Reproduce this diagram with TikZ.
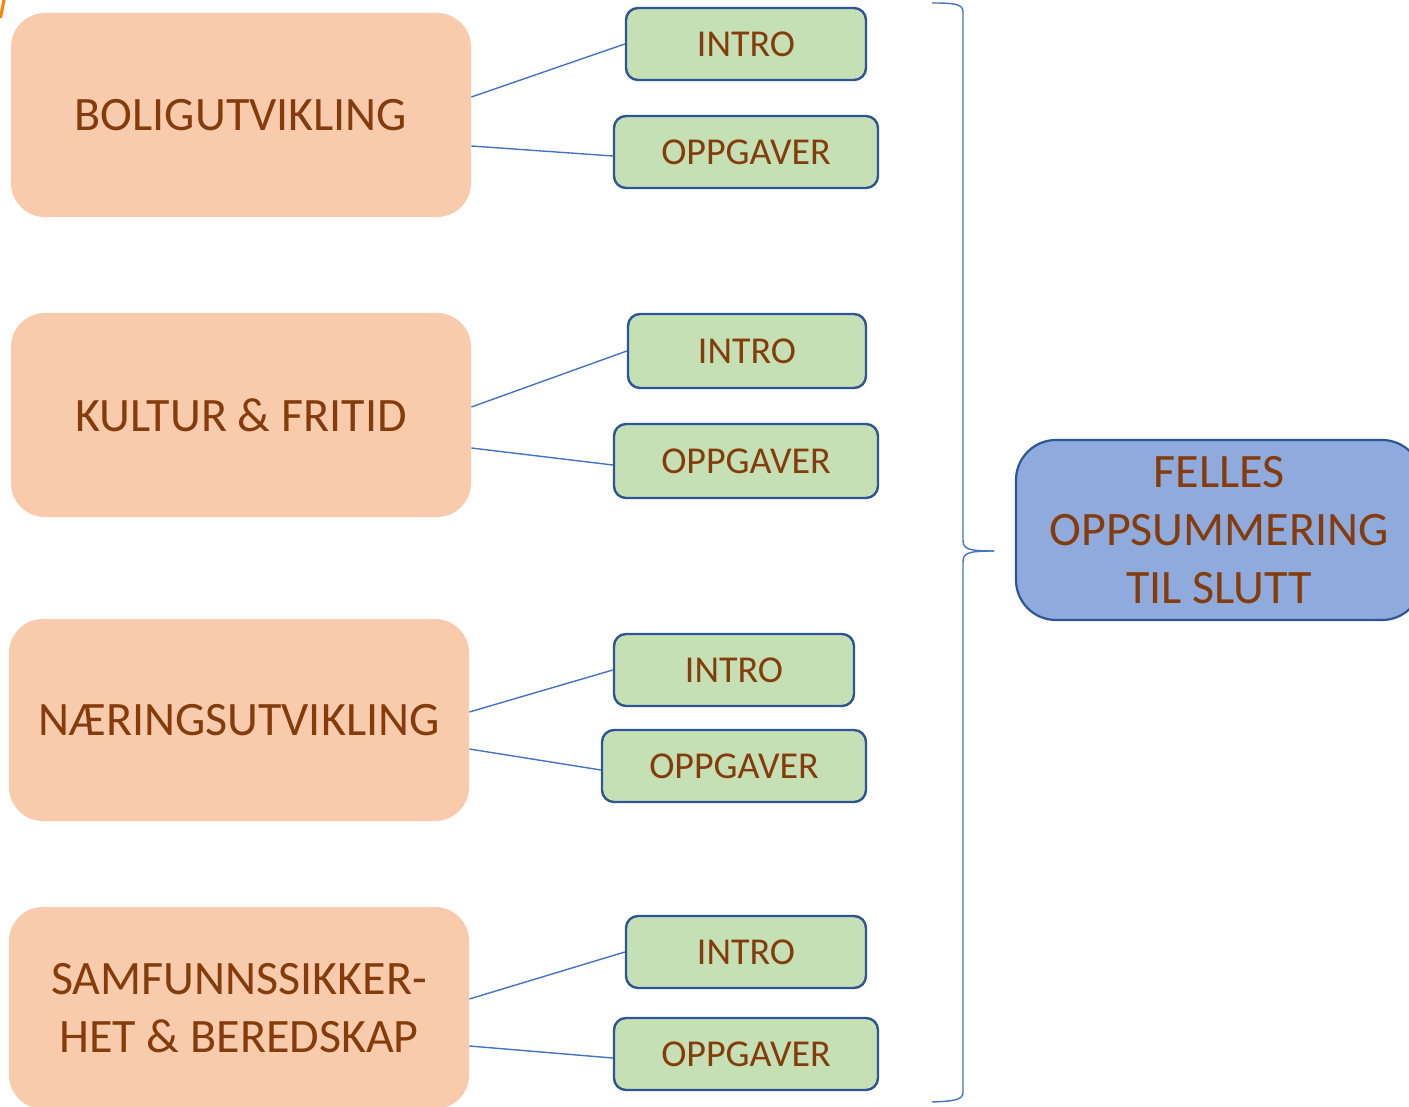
\documentclass[tikz,border=0pt]{standalone}
\usepackage{fontspec}
\setmainfont{Carlito}
\usepackage{tikz}
\usetikzlibrary{positioning,calc}
\definecolor{brun}{HTML}{843C0C}
\definecolor{fersken}{HTML}{F8CBAD}
\definecolor{lysgronn}{HTML}{C5E0B4}
\definecolor{mørkblå}{HTML}{2F5597}
\definecolor{lysblå}{HTML}{8FAADC}
\definecolor{linjeblå}{HTML}{4472C4}
\tikzset{tema/.style={rectangle, rounded corners=17pt, fill=fersken, text=brun, inner sep=0pt, minimum width=230pt, minimum height=102pt, font=\fontsize{24}{29}\selectfont, align=center},
	del/.style={rectangle, rounded corners=6pt, draw=mørkblå, line width=1.2pt, fill=lysgronn, text=brun, inner sep=0pt, minimum height=36pt, font=\fontsize{19}{22}\selectfont},
	felles/.style={rectangle, rounded corners=20pt, draw=mørkblå, line width=1.1pt, fill=lysblå, text=brun, inner sep=0pt, minimum width=203pt, minimum height=90pt, font=\fontsize{24}{29}\selectfont, align=center},
	kobling/.style={draw=linjeblå, line width=0.7pt}}

\begin{document}
\begin{tikzpicture}[x=0.5pt,y=-0.5pt]
		\useasboundingbox (0,0) rectangle (1409,1107);
		\clip (0,0) rectangle (1409,1107);
		\draw[orange, line width=1.5pt] (0.5,18) -- (4,0);
		% temaer
		\node[tema] (bolig) at (241,115) {BOLIGUTVIKLING};
		\node[tema] (kultur) at (241,415) {KULTUR \& FRITID};
		\node[tema, minimum height=101pt] (naering) at (239,720) {NÆRINGSUTVIKLING};
		\node[tema, minimum height=101pt] (samfunn) at (239,1008) {SAMFUNNSSIKKER-\\HET \& BEREDSKAP};
		% intro og oppgaver
		\node[del, minimum width=120pt] (intro1) at (746,44) {INTRO};
		\node[del, minimum width=132pt] (oppg1) at (746,152) {OPPGAVER};
		\node[del, minimum width=119pt, minimum height=37pt] (intro2) at (747,351) {INTRO};
		\node[del, minimum width=132pt, minimum height=37pt] (oppg2) at (746,461) {OPPGAVER};
		\node[del, minimum width=120pt] (intro3) at (734,670) {INTRO};
		\node[del, minimum width=132pt] (oppg3) at (734,766) {OPPGAVER};
		\node[del, minimum width=120pt] (intro4) at (746,952) {INTRO};
		\node[del, minimum width=132pt] (oppg4) at (746,1054) {OPPGAVER};
		% koblinger
		\foreach \t/\i/\o/\a/\b in {bolig/intro1/oppg1/9/-15.5, kultur/intro2/oppg2/4/-16.5, naering/intro3/oppg3/4/-14.5, samfunn/intro4/oppg4/4.5/-19}
		{
			\draw[kobling] ([yshift=\a pt]\t.east) -- (\i.west);
			\draw[kobling] ([yshift=\b pt]\t.east) -- ([yshift=-2pt]\o.west);
		}
		% klamme
		\coordinate (spiss) at (994,551);
		\draw[kobling, line width=0.7pt] (932,3) .. controls (955,3) and (963,4) .. (963,12) -- (963,540) .. controls (963,549) and (968,551) .. (spiss);
		\draw[kobling, line width=0.7pt] (spiss) .. controls (968,551) and (963,553) .. (963,562) -- (963,1092) .. controls (963,1100) and (955,1101) .. (932,1102);
		\node[felles] (oppsum) at (1219,530) {FELLES\\OPPSUMMERING\\TIL SLUTT};
		\end{tikzpicture}
\end{document}
